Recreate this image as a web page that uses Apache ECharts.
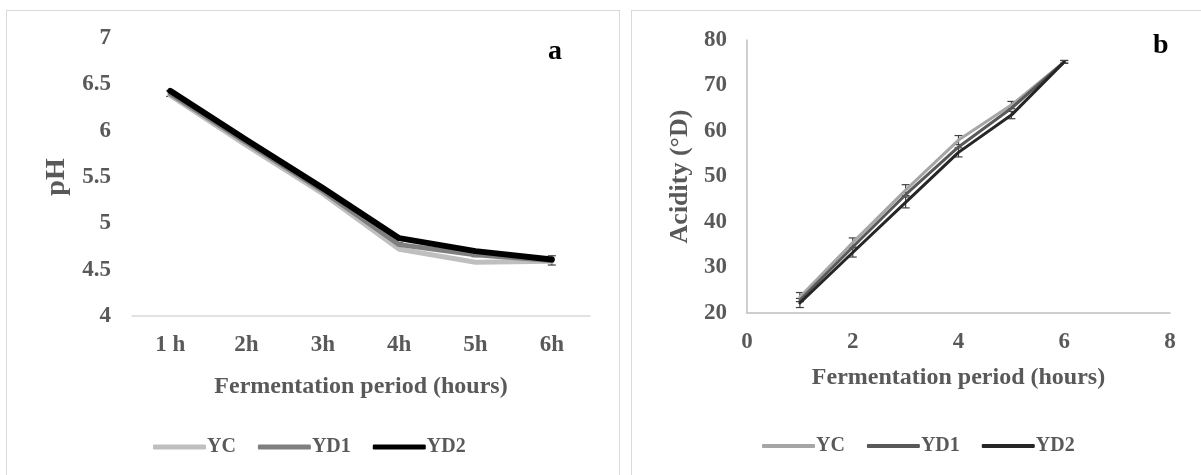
<!DOCTYPE html>
<html>
<head>
<meta charset="utf-8">
<script src="https://cdn.jsdelivr.net/npm/echarts@6/dist/echarts.min.js"></script>
<style>
body { margin: 0; background: #fff; }
.frame { position: absolute; border: 1px solid #d9d9d9; }
.chart { position: absolute; top: 0; }
</style>
</head>
<body>
<div class="frame" style="left:6px;top:10px;width:612px;height:480px;"></div>
<div class="frame" style="left:631px;top:10px;width:600px;height:480px;"></div>
<div id="chartA" class="chart" style="left:0;width:625px;height:475px;"></div>
<div id="chartB" class="chart" style="left:625px;width:576px;height:475px;"></div>
<script>
// panel a: pH
var hours = ["1 h", "2h", "3h", "4h", "5h", "6h"];
var phYC = [6.38, 5.84, 5.32, 4.72, 4.58, 4.59];
var phYD1 = [6.40, 5.87, 5.35, 4.77, 4.66, 4.60];
var phYD2 = [6.43, 5.90, 5.38, 4.84, 4.70, 4.61];
var phErr = [0.03, 0.02, 0.02, 0.02, 0.02, 0.05];

// panel b: acidity
var periods = [1, 2, 3, 4, 5, 6];
var acYC = [23.5, 35.5, 47.0, 58.0, 65.7, 75.2];
var acYD1 = [22.8, 34.5, 46.0, 56.5, 65.0, 75.2];
var acYD2 = [22.2, 33.3, 44.3, 55.3, 63.5, 75.2];
var acErr = [1.0, 1.0, 1.2, 1.0, 0.8, 0.3];

var FONT = "Liberation Serif";
var GREY = "#595959";

function errData(xs, ys, err){
	return xs.map(function(x, i){
		return [x, ys[i] - err[i], ys[i] + err[i]];
	});
}

function errSeries(data, color, cap){
	return {
		type: "custom",
		silent: true,
		z: 1,
		data: data,
		renderItem: function(params, api){
			var lo = api.coord([api.value(0), api.value(1)]);
			var hi = api.coord([api.value(0), api.value(2)]);
			var st = {stroke: color, lineWidth: 1.2};
			return {type: "group", children: [
				{type: "line", shape: {x1: lo[0], y1: lo[1], x2: hi[0], y2: hi[1]}, style: st},
				{type: "line", shape: {x1: lo[0] - cap, y1: lo[1], x2: lo[0] + cap, y2: lo[1]}, style: st},
				{type: "line", shape: {x1: hi[0] - cap, y1: hi[1], x2: hi[0] + cap, y2: hi[1]}, style: st}
			]};
		}
	};
}

function lineSeries(name, data, color, width){
	return {
		name: name,
		type: "line",
		data: data,
		symbol: "none",
		z: 2,
		lineStyle: {color: color, width: width, cap: "round", join: "round"},
		itemStyle: {color: color}
	};
}

function tickLabel(margin){
	return {margin: margin, color: GREY, fontFamily: FONT, fontWeight: "bold", fontSize: 23};
}
var nameText = {color: GREY, fontFamily: FONT, fontWeight: "bold", fontSize: 24};
var legendText = {color: GREY, fontFamily: FONT, fontWeight: "bold", fontSize: 20, padding: [0, 0, 0, -4]};

var chartA = echarts.init(document.getElementById("chartA"));
chartA.setOption({
	animation: false,
	grid: {left: 132, top: 38, width: 458, height: 278},
	legend: {
		data: ["YC", "YD1", "YD2"],
		left: 148, top: 432,
		icon: "roundRect",
		itemWidth: 53, itemHeight: 5, itemGap: 22,
		textStyle: legendText
	},
	xAxis: {
		type: "category",
		data: hours,
		boundaryGap: true,
		axisLine: {lineStyle: {color: "#d9d9d9", width: 1.5}},
		axisTick: {show: false},
		axisLabel: tickLabel(18),
		name: "Fermentation period (hours)",
		nameLocation: "middle",
		nameGap: 59,
		nameTextStyle: nameText
	},
	yAxis: {
		type: "value",
		min: 4, max: 7, interval: 0.5,
		axisLine: {show: false},
		axisTick: {show: false},
		splitLine: {show: false},
		axisLabel: tickLabel(21),
		name: "pH",
		nameLocation: "middle",
		nameGap: 61,
		nameTextStyle: {color: GREY, fontFamily: FONT, fontWeight: "bold", fontSize: 28}
	},
	graphic: [{
		type: "text", left: 548, top: 38,
		style: {text: "a", fill: "#000", font: "bold 28px " + FONT}
	}],
	series: [
		errSeries(errData([0, 1, 2, 3, 4, 5], phYD1, phErr), "#404040", 4),
		lineSeries("YC", phYC, "#bfbfbf", 5),
		lineSeries("YD1", phYD1, "#7f7f7f", 5),
		lineSeries("YD2", phYD2, "#000000", 6)
	]
});

var chartB = echarts.init(document.getElementById("chartB"));
chartB.setOption({
	animation: false,
	grid: {left: 122, top: 40, width: 423, height: 273},
	legend: {
		data: ["YC", "YD1", "YD2"],
		left: 132, top: 431,
		icon: "roundRect",
		itemWidth: 53, itemHeight: 4, itemGap: 22,
		textStyle: legendText
	},
	xAxis: {
		type: "value",
		min: 0, max: 8, interval: 2,
		axisLine: {show: true, lineStyle: {color: "#bfbfbf", width: 1.5}},
		axisTick: {show: false},
		splitLine: {show: false},
		axisLabel: tickLabel(18),
		name: "Fermentation period (hours)",
		nameLocation: "middle",
		nameGap: 53,
		nameTextStyle: nameText
	},
	yAxis: {
		type: "value",
		min: 20, max: 80, interval: 10,
		axisLine: {show: true, lineStyle: {color: "#bfbfbf", width: 1.5}},
		axisTick: {show: false},
		splitLine: {show: false},
		axisLabel: tickLabel(20),
		name: "Acidity (°D)",
		nameLocation: "middle",
		nameGap: 54,
		nameTextStyle: {color: GREY, fontFamily: FONT, fontWeight: "bold", fontSize: 26}
	},
	graphic: [{
		type: "text", left: 528, top: 32,
		style: {text: "b", fill: "#000", font: "bold 28px " + FONT}
	}],
	series: [
		errSeries(errData(periods, acYC, acErr), "#404040", 4),
		errSeries(errData(periods, acYD2, acErr), "#404040", 4),
		lineSeries("YC", periods.map(function(x, i){ return [x, acYC[i]]; }), "#a6a6a6", 3),
		lineSeries("YD1", periods.map(function(x, i){ return [x, acYD1[i]]; }), "#595959", 3),
		lineSeries("YD2", periods.map(function(x, i){ return [x, acYD2[i]]; }), "#262626", 3)
	]
});
</script>
</body>
</html>
